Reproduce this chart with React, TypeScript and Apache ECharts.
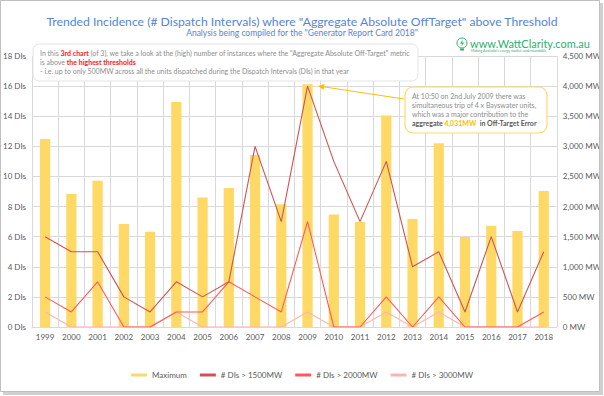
import React, { useEffect, useRef } from "react";
import * as echarts from "echarts";

const years = ["1999","2000","2001","2002","2003","2004","2005","2006","2007","2008","2009","2010","2011","2012","2013","2014","2015","2016","2017","2018"];
const maximumMW = [3120, 2210, 2430, 1710, 1580, 3735, 2150, 2310, 2855, 2040, 4031, 1870, 1745, 3510, 1795, 3050, 1495, 1680, 1595, 2260];
const dis1500 = [6, 5, 5, 2, 1, 3, 2, 3, 12, 7, 16, 11, 7, 11, 4, 5, 1, 6, 1, 5];
const dis2000 = [2, 1, 3, 0, 0, 1, 1, 3, 2, 1, 7, 0, 0, 2, 0, 2, 0, 0, 0, 1];
const dis3000 = [1, 0, 0, 0, 0, 1, 0, 0, 0, 0, 1, 0, 0, 1, 0, 1, 0, 0, 0, 0];
const seriesNames = ["Maximum", "# DIs > 1500MW", "# DIs > 2000MW", "# DIs > 3000MW"];

const FONT = "Lato";
const GREY = "#8C8C8C";

export default function App() {
  const ref = useRef<HTMLDivElement>(null);
  useEffect(() => {
    if (!ref.current) return;
    const chart = echarts.init(ref.current, null, { renderer: "svg" });
    const option: any = {
      animation: false,
      backgroundColor: "#ffffff",
      textStyle: { fontFamily: FONT },
      title: {
        text: 'Trended Incidence (# Dispatch Intervals) where "Aggregate Absolute OffTarget" above Threshold',
        subtext: 'Analysis being compiled for the "Generator Report Card 2018"',
        left: "center",
        top: 10,
        itemGap: 1,
        textStyle: { fontFamily: FONT, fontSize: 12.2, fontWeight: "normal", color: "#5585D3" },
        subtextStyle: { fontFamily: FONT, fontSize: 8.5, color: "#5585D3" },
      },
      grid: { left: 26.7, right: 43.5, top: 56, bottom: 69, containLabel: false },
      legend: {
        bottom: 12,
        left: "center",
        itemWidth: 16,
        itemHeight: 3,
        itemGap: 13,
        icon: "rect",
        textStyle: { fontFamily: FONT, fontSize: 8, color: "#595959" },
        data: seriesNames,
      },
      xAxis: {
        type: "category",
        data: years,
        boundaryGap: true,
        axisLine: { lineStyle: { color: "#D9D9D9" } },
        axisTick: { show: false },
        axisLabel: { fontFamily: FONT, fontSize: 8, color: "#595959", margin: 6, interval: 0 },
        splitLine: { show: true, interval: 0, lineStyle: { color: "#D9D9D9" } },
      },
      yAxis: [
        {
          type: "value",
          min: 0,
          max: 18,
          interval: 2,
          axisLabel: { fontFamily: FONT, fontSize: 8, color: "#595959", margin: 6, formatter: (v: number) => `${v} DIs` },
          axisLine: { show: false },
          axisTick: { show: false },
          splitLine: { lineStyle: { color: "#D9D9D9" } },
        },
        {
          type: "value",
          min: 0,
          max: 4500,
          interval: 500,
          axisLabel: {
            fontFamily: FONT,
            fontSize: 8,
            color: "#595959",
            margin: 6,
            formatter: (v: number) => `${v.toLocaleString("en-US")} MW`,
          },
          axisLine: { show: false },
          axisTick: { show: false },
          splitLine: { show: false },
        },
      ],
      series: [
        {
          name: seriesNames[0],
          type: "bar",
          yAxisIndex: 1,
          data: maximumMW,
          barWidth: "39%",
          itemStyle: { color: "#FFD966" },
        },
        {
          name: seriesNames[3],
          type: "line",
          yAxisIndex: 0,
          data: dis3000,
          symbol: "none",
          lineStyle: { color: "#FFB4B4", width: 1.1 },
          itemStyle: { color: "#FFB4B4" },
        },
        {
          name: seriesNames[2],
          type: "line",
          yAxisIndex: 0,
          data: dis2000,
          symbol: "none",
          lineStyle: { color: "#FF5A5A", width: 1.1 },
          itemStyle: { color: "#FF5A5A" },
        },
        {
          name: seriesNames[1],
          type: "line",
          yAxisIndex: 0,
          data: dis1500,
          symbol: "none",
          lineStyle: { color: "#CC5454", width: 1.1 },
          itemStyle: { color: "#CC5454" },
        },
      ],
      graphic: [
        // outer frame
        { type: "rect", shape: { x: 0.5, y: 0.5, width: 599, height: 391 }, style: { fill: "none", stroke: "#BFBFBF", lineWidth: 1 }, z: 100 },
        { type: "rect", shape: { x: 600, y: 3, width: 3, height: 391 }, style: { fill: "#D0D0D0" }, z: 100 },
        { type: "rect", shape: { x: 3, y: 392, width: 600, height: 3 }, style: { fill: "#D0D0D0" }, z: 100 },
        // top-left note box
        {
          type: "rect",
          shape: { x: 33, y: 44, width: 385, height: 37, r: 6 },
          style: { fill: "#ffffff", stroke: "#E3E3E3", lineWidth: 1 },
          z: 50,
        },
        {
          type: "text",
          x: 40,
          y: 53,
          z: 51,
          style: {
            text: 'In this {r|3rd chart} (of 3), we take a look at the (high) number of instances where the "Aggregate Absolute Off-Target" metric',
            fill: GREY,
            fontFamily: FONT,
            fontSize: 7,
            verticalAlign: "middle",
            rich: { r: { fill: "#FF2020", fontWeight: "bold", fontFamily: FONT, fontSize: 7 } },
          },
        },
        {
          type: "text",
          x: 40,
          y: 62,
          z: 51,
          style: {
            text: "is above {r|the highest thresholds}",
            fill: GREY,
            fontFamily: FONT,
            fontSize: 7,
            verticalAlign: "middle",
            rich: { r: { fill: "#FF2020", fontWeight: "bold", fontFamily: FONT, fontSize: 7 } },
          },
        },
        {
          type: "text",
          x: 40,
          y: 71,
          z: 51,
          style: {
            text: "- i.e. up to only 500MW across all the units dispatched during the Dispatch Intervals (DIs) in that year",
            fill: GREY,
            fontFamily: FONT,
            fontSize: 7,
            verticalAlign: "middle",
          },
        },
        // right annotation
        {
          type: "line",
          shape: { x1: 404, y1: 99, x2: 322, y2: 86.6 },
          style: { stroke: "#FFC000", lineWidth: 1 },
          z: 50,
        },
        {
          type: "polygon",
          shape: { points: [[318, 86], [324.5, 84], [323.6, 89.9]] },
          style: { fill: "#FFC000" },
          z: 50,
        },
        {
          type: "rect",
          shape: { x: 405, y: 87, width: 142, height: 46, r: 8 },
          style: { fill: "#ffffff", stroke: "#FFD966", lineWidth: 1.2 },
          z: 50,
        },
        { type: "text", x: 412, y: 96, z: 51, style: { text: "At 10:50 on 2nd July 2009 there was", fill: GREY, fontFamily: FONT, fontSize: 7, verticalAlign: "middle" } },
        { type: "text", x: 412, y: 105, z: 51, style: { text: "simultaneous trip of 4 x Bayswater units,", fill: GREY, fontFamily: FONT, fontSize: 7, verticalAlign: "middle" } },
        { type: "text", x: 412, y: 114, z: 51, style: { text: "which was a major contribution to the", fill: GREY, fontFamily: FONT, fontSize: 7, verticalAlign: "middle" } },
        {
          type: "text",
          x: 412,
          y: 123,
          z: 51,
          style: {
            text: "aggregate {o|4,031MW}  in Off-Target Error",
            fill: "#595959",
            fontFamily: FONT,
            fontSize: 7,
            fontWeight: "bold",
            verticalAlign: "middle",
            rich: { o: { fill: "#FFC000", fontWeight: "bold", fontFamily: FONT, fontSize: 7 } },
          },
        },
        // logo
        { type: "circle", shape: { cx: 462, cy: 43, r: 5 }, style: { fill: "none", stroke: "#2FAE6E", lineWidth: 1 }, z: 50 },
        { type: "polygon", shape: { points: [[463, 39.5], [460, 43.5], [462.2, 43.5], [461, 46.8], [464.2, 42.5], [462, 42.5]] }, style: { fill: "#2FAE6E" }, z: 50 },
        { type: "rect", shape: { x: 460, y: 48.5, width: 4, height: 2 }, style: { fill: "#2FAE6E" }, z: 50 },
        { type: "text", x: 470, y: 43, z: 50, style: { text: "www.WattClarity.com.au", fill: "#2FAE6E", fontFamily: FONT, fontSize: 11, verticalAlign: "middle" } },
        { type: "text", x: 471, y: 51, z: 50, style: { text: "Making Australia's energy market understandable", fill: "#2FAE6E", fontFamily: FONT, fontSize: 3.5, verticalAlign: "middle" } },
      ],
    };
    chart.setOption(option);
    return () => chart.dispose();
  }, []);
  return <div ref={ref} style={{ position: "absolute", left: 0, top: 0, width: 604, height: 396 }} />;
}
